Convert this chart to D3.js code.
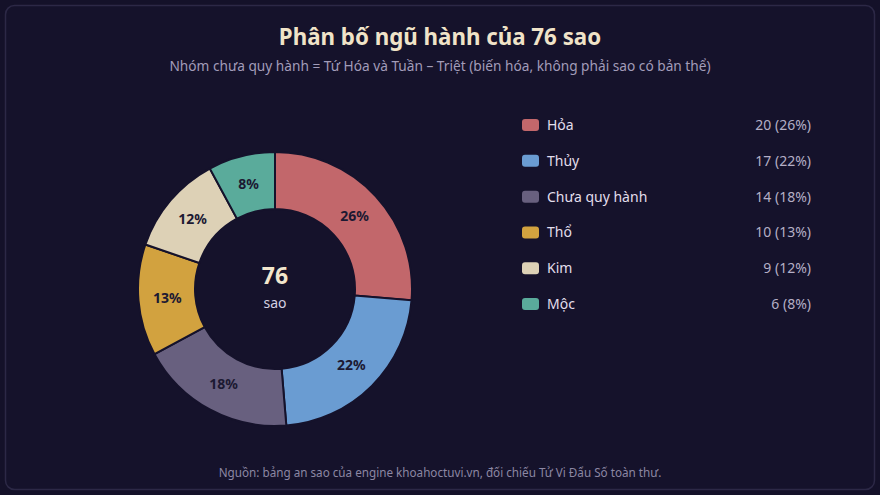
<!DOCTYPE html>
<html><head><meta charset="utf-8">
<script src="https://cdn.jsdelivr.net/npm/d3@7"></script>
<style>
html,body{margin:0;padding:0;background:#141129;}
svg{display:block;font-family:"Noto Sans","Open Sans",sans-serif;}
</style></head>
<body>
<svg id="chart" width="880" height="495"></svg>
<script>
const categories = ["Hỏa","Thủy","Chưa quy hành","Thổ","Kim","Mộc"];
const counts = [20,17,14,10,9,6];
const colors = ["#c2676b","#6a9cd2","#68607f","#d2a23f","#ddd1b6","#5aab9b"];
const title = "Phân bố ngũ hành của 76 sao";
const subtitle = "Nhóm chưa quy hành = Tứ Hóa và Tuần – Triệt (biến hóa, không phải sao có bản thể)";
const footer = "Nguồn: bảng an sao của engine khoahoctuvi.vn, đối chiếu Tử Vi Đẩu Số toàn thư.";
const centerValue = "76";
const centerUnit = "sao";

const svg = d3.select("#chart");
const W = 880, H = 495;
svg.append("rect").attr("x",0).attr("y",0).attr("width",W).attr("height",H).attr("fill","#141129");
svg.append("rect").attr("x",5.5).attr("y",5.5).attr("width",869).attr("height",484).attr("rx",9)
  .attr("fill","#15122b").attr("stroke","#2c2846").attr("stroke-width",1.5);

svg.append("text").attr("x",440).attr("y",45).attr("text-anchor","middle")
  .attr("font-size",22.3).attr("font-weight",700).attr("fill","#f0e3c8").text(title);
svg.append("text").attr("x",440).attr("y",71).attr("text-anchor","middle")
  .attr("font-size",13.7).attr("fill","#a29cb9").text(subtitle);
svg.append("text").attr("x",440).attr("y",477).attr("text-anchor","middle")
  .attr("font-size",11.7).attr("fill","#8c87a3").text(footer);

const total = d3.sum(counts);
const data = categories.map((c,i)=>({name:c,value:counts[i],color:colors[i]}));
const pie = d3.pie().value(d=>d.value).sort(null);
const arcs = pie(data);
const arc = d3.arc().innerRadius(80).outerRadius(137);
const labelArc = d3.arc().innerRadius(108).outerRadius(108);
const g = svg.append("g").attr("transform","translate(275,289)");
g.selectAll("path").data(arcs).join("path")
  .attr("d",arc).attr("fill",d=>d.data.color)
  .attr("stroke","#15122b").attr("stroke-width",2);
const pct = v => Math.round(v/total*100)+"%";
g.selectAll("text.lbl").data(arcs).join("text").attr("class","lbl")
  .attr("transform",d=>`translate(${labelArc.centroid(d)})`)
  .attr("text-anchor","middle").attr("dy","0.35em")
  .attr("font-size",14).attr("font-weight",700).attr("fill","#1c1932")
  .text(d=>pct(d.data.value));
g.append("text").attr("y",-5).attr("text-anchor","middle").attr("font-size",23)
  .attr("font-weight",700).attr("fill","#f2e6cd").text(centerValue);
g.append("text").attr("y",19).attr("text-anchor","middle").attr("font-size",14)
  .attr("fill","#d4d0e2").text(centerUnit);

const ly = d3.scaleBand().domain(categories).range([107.1,322]);
const leg = svg.append("g");
const rows = leg.selectAll("g").data(data).join("g")
  .attr("transform",d=>`translate(0,${ly(d.name)+ly.bandwidth()/2})`);
rows.append("rect").attr("x",522).attr("y",-6).attr("width",17).attr("height",12).attr("rx",3)
  .attr("fill",d=>d.color);
rows.append("text").attr("x",547).attr("dy","0.35em").attr("font-size",14).attr("fill","#e2deec")
  .text(d=>d.name);
rows.append("text").attr("x",811).attr("dy","0.35em").attr("text-anchor","end").attr("font-size",14)
  .attr("fill","#b4afc6").text(d=>`${d.value} (${pct(d.value)})`);
</script>
</body></html>
